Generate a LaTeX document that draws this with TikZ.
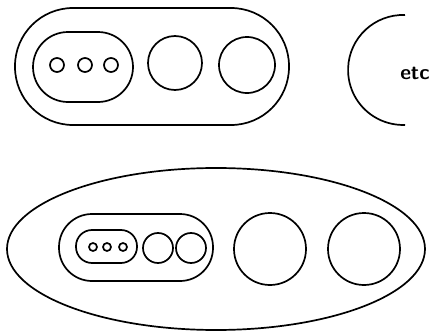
\documentclass[tikz,border=0pt]{standalone}
\usepackage{fontspec}
\usepackage{tikz}
\tikzset{every node/.append style={font=\sffamily\bfseries\fontsize{21}{21}\selectfont}}
\tikzset{ring/.style={draw, line width=1.7pt}}

\begin{document}
\begin{tikzpicture}[x=1pt, y=-1pt, line join=round]
    \useasboundingbox (0,0) rectangle (432,332);
    % top row
    \draw[ring, rounded corners=58pt] (15,8) rectangle (289,125);
    \draw[ring, rounded corners=35pt] (33,32) rectangle (133,102);
    \foreach \x in {57,85,111}
        \draw[ring] (\x,65) circle (7);
    \draw[ring] (175,63) circle (27);
    \draw[ring] (247,65) circle (28);
    \draw[ring] (405,15) arc[start angle=-88, end angle=-272, radius=55];
    \node (etc) at (415,73) {etc};
    % bottom row
    \draw[ring] (216,249) ellipse (209 and 81);
    \draw[ring, rounded corners=33pt] (59,214) rectangle (213,281);
    \draw[ring, rounded corners=16pt] (76,230) rectangle (137,263);
    \foreach \x in {93,107,123}
        \draw[ring] (\x,247) circle (4);
    \foreach \x in {158,191}
        \draw[ring] (\x,248) circle (15);
    \foreach \x in {270,364}
        \draw[ring] (\x,249) circle (36);
\end{tikzpicture}
\end{document}
